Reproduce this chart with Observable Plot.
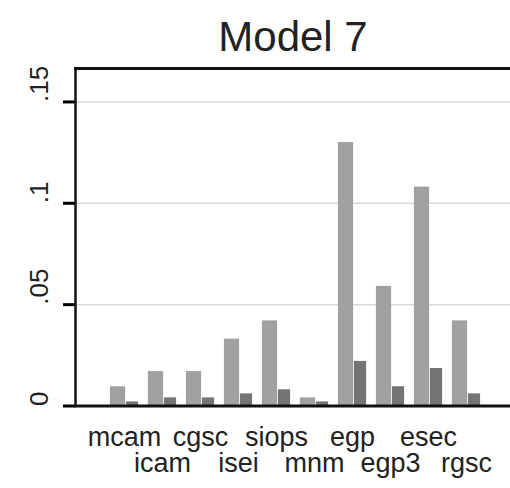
<!DOCTYPE html>
<html>
<head>
<meta charset="utf-8">
<script src="https://cdn.jsdelivr.net/npm/d3@7"></script>
<script src="https://cdn.jsdelivr.net/npm/@observablehq/plot@0.6"></script>
<style>
  html, body { margin: 0; padding: 0; background: #fff; }
  #chart svg { display: block; }
</style>
</head>
<body>
<div id="chart"></div>
<script>
const title = "Model 7";
const categories = ["mcam", "icam", "cgsc", "isei", "siops", "mnm", "egp", "egp3", "esec", "rgsc"];
const seriesA = [0.0095, 0.017, 0.017, 0.033, 0.042, 0.004, 0.130, 0.059, 0.108, 0.042];
const seriesB = [0.002, 0.004, 0.004, 0.006, 0.008, 0.002, 0.022, 0.0095, 0.0185, 0.006];
const yTicks = [0, 0.05, 0.1, 0.15];
const yTickLabels = ["0", ".05", ".1", ".15"];

const rows = categories.map((c, i) => ({cat: c, a: seriesA[i], b: seriesB[i], i}));
const ticks = yTicks.map((v, i) => ({v, label: yTickLabels[i]}));
const font = "'Liberation Sans', Arial, sans-serif";

const chart = Plot.plot({
  width: 510,
  height: 488,
  marginLeft: 75,
  marginRight: 0,
  marginTop: 68,
  marginBottom: 82.5,
  style: {fontFamily: font, background: "#fff"},
  x: {type: "band", domain: categories, range: [101, 489], padding: 0, axis: null},
  y: {domain: [0, 0.1665], axis: null},
  marks: [
    Plot.gridY(yTicks.slice(1), {stroke: "#d9d9d9", strokeOpacity: 1, strokeWidth: 1.5}),
    Plot.barY(rows, {x: "cat", y: "a", fill: "#a1a1a1", insetLeft: 4.9, insetRight: 17.9}),
    Plot.barY(rows, {x: "cat", y: "b", fill: "#747474", insetLeft: 20.9, insetRight: 4.9}),
    Plot.axisY(yTicks, {anchor: "left", tickSize: 12, tickPadding: 0, tickFormat: () => "", stroke: "#000", strokeWidth: 3, strokeOpacity: 1, label: null}),
    Plot.text(ticks, {y: "v", text: "label", frameAnchor: "left", dx: -36, rotate: -90, fontSize: 26, fill: "#222"}),
    Plot.text(rows.filter(d => d.i % 2 === 0), {x: "cat", text: "cat", frameAnchor: "bottom", dy: 39.5, fontSize: 27, fill: "#222"}),
    Plot.text(rows.filter(d => d.i % 2 === 1), {x: "cat", text: "cat", frameAnchor: "bottom", dy: 65.5, fontSize: 27, fill: "#222"}),
    Plot.frame({anchor: "left", stroke: "#111", strokeWidth: 2.5}),
    Plot.frame({anchor: "top", stroke: "#111", strokeWidth: 3}),
    Plot.frame({anchor: "bottom", stroke: "#111", strokeWidth: 3}),
    Plot.text([title], {frameAnchor: "top", dy: -47.5, fontSize: 42, fill: "#222"})
  ]
});
document.getElementById("chart").appendChild(chart);
</script>
</body>
</html>
